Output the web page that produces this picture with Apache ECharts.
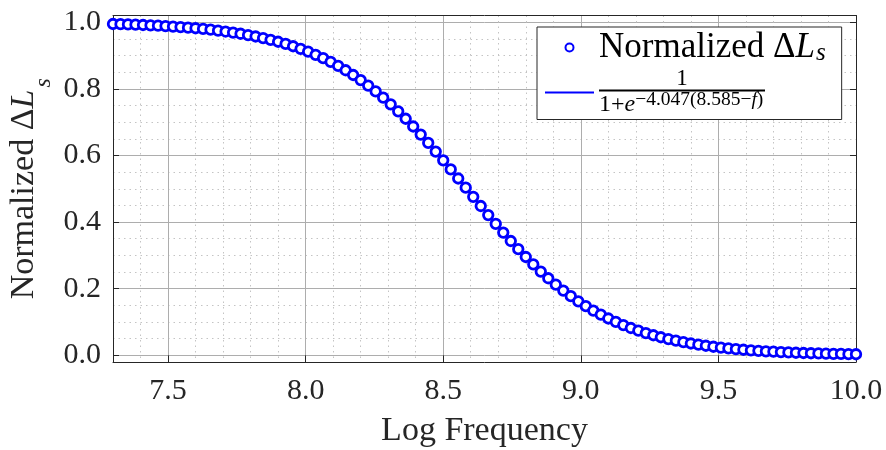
<!DOCTYPE html>
<html>
<head>
<meta charset="utf-8">
<script src="https://cdn.jsdelivr.net/npm/echarts@6/dist/echarts.min.js"></script>
<style>
  html, body { margin: 0; padding: 0; background: #ffffff; }
  #chart { width: 886px; height: 450px; }
</style>
</head>
<body>
<div id="chart"></div>
<script>
// Sample positions on the log-frequency axis
const logFreq = [
  7.3000, 7.3273, 7.3545, 7.3818, 7.4091, 7.4364, 7.4636, 7.4909, 7.5182, 7.5455,
  7.5727, 7.6000, 7.6273, 7.6545, 7.6818, 7.7091, 7.7364, 7.7636, 7.7909, 7.8182,
  7.8455, 7.8727, 7.9000, 7.9273, 7.9545, 7.9818, 8.0091, 8.0364, 8.0636, 8.0909,
  8.1182, 8.1455, 8.1727, 8.2000, 8.2273, 8.2545, 8.2818, 8.3091, 8.3364, 8.3636,
  8.3909, 8.4182, 8.4455, 8.4727, 8.5000, 8.5273, 8.5545, 8.5818, 8.6091, 8.6364,
  8.6636, 8.6909, 8.7182, 8.7455, 8.7727, 8.8000, 8.8273, 8.8545, 8.8818, 8.9091,
  8.9364, 8.9636, 8.9909, 9.0182, 9.0455, 9.0727, 9.1000, 9.1273, 9.1545, 9.1818,
  9.2091, 9.2364, 9.2636, 9.2909, 9.3182, 9.3455, 9.3727, 9.4000, 9.4273, 9.4545,
  9.4818, 9.5091, 9.5364, 9.5636, 9.5909, 9.6182, 9.6455, 9.6727, 9.7000, 9.7273,
  9.7545, 9.7818, 9.8091, 9.8364, 9.8636, 9.8909, 9.9182, 9.9455, 9.9727, 10.0000
];

// Normalized ΔL_s measured at each sample
const normDeltaLs = [
  0.9945, 0.9939, 0.9932, 0.9924, 0.9915, 0.9905, 0.9894, 0.9882, 0.9868, 0.9853,
  0.9836, 0.9818, 0.9797, 0.9774, 0.9748, 0.9719, 0.9688, 0.9652, 0.9613, 0.9570,
  0.9523, 0.9470, 0.9412, 0.9347, 0.9277, 0.9199, 0.9114, 0.9021, 0.8919, 0.8808,
  0.8687, 0.8556, 0.8414, 0.8261, 0.8097, 0.7921, 0.7733, 0.7534, 0.7323, 0.7101,
  0.6869, 0.6626, 0.6375, 0.6117, 0.5852, 0.5581, 0.5308, 0.5032, 0.4757, 0.4482,
  0.4211, 0.3945, 0.3684, 0.3431, 0.3187, 0.2952, 0.2728, 0.2515, 0.2313, 0.2122,
  0.1943, 0.1776, 0.1621, 0.1477, 0.1343, 0.1220, 0.1106, 0.1002, 0.0907, 0.0820,
  0.0741, 0.0669, 0.0603, 0.0543, 0.0489, 0.0440, 0.0396, 0.0356, 0.0320, 0.0288,
  0.0258, 0.0232, 0.0208, 0.0187, 0.0168, 0.0150, 0.0135, 0.0121, 0.0109, 0.0097,
  0.0087, 0.0078, 0.0070, 0.0063, 0.0056, 0.0050, 0.0045, 0.0041, 0.0036, 0.0033
];

// Logistic fit parameters, as printed in the legend
const FIT_K = 4.047;
const FIT_F0 = 8.585;

// Axis ticks
const xMajorTicks = [7.5, 8.0, 8.5, 9.0, 9.5, 10.0];
const xMinorTicks = [7.4, 7.6, 7.7, 7.8, 7.9, 8.1, 8.2, 8.3, 8.4, 8.6, 8.7, 8.8, 8.9,
                     9.1, 9.2, 9.3, 9.4, 9.6, 9.7, 9.8, 9.9];
const yMajorTicks = [0.0, 0.2, 0.4, 0.6, 0.8, 1.0];
const yMinorTicks = [0.05, 0.1, 0.15, 0.25, 0.3, 0.35, 0.45, 0.5, 0.55,
                     0.65, 0.7, 0.75, 0.85, 0.9, 0.95];

const X_RANGE = [7.3, 10.0];
const Y_RANGE = [-0.02, 1.02];

const SERIF = "'Liberation Serif', 'Times New Roman', 'DejaVu Serif', serif";
const INK = '#262626';
const BLUE = '#0000ff';

const DATA_NAME = 'Normalized ΔLs';
const FIT_NAME = '1/(1+e^(-4.047(8.585-f)))';

const measured = logFreq.map((f, i) => [f, normDeltaLs[i]]);
const fitted = logFreq.map(f => [f, 1 / (1 + Math.exp(-FIT_K * (FIT_F0 - f)))]);

const fmt1 = v => Number(v).toFixed(1);

function majorAxis(extra) {
  return Object.assign({
    type: 'value',
    axisLine: { show: true, onZero: false, lineStyle: { color: INK, width: 1 } },
    axisTick: { show: true, inside: true, length: 6, lineStyle: { color: INK, width: 1 } },
    axisLabel: { show: true, formatter: fmt1, fontFamily: SERIF, fontSize: 30, color: INK },
    splitLine: { show: true, lineStyle: { color: '#adadad', width: 1 } },
    minorTick: { show: false },
    minorSplitLine: { show: false }
  }, extra);
}

function minorAxis(extra) {
  return Object.assign({
    type: 'value',
    axisLine: { show: true, onZero: false, lineStyle: { color: INK, width: 1 } },
    axisTick: { show: false },
    axisLabel: { show: false },
    splitLine: { show: true, lineStyle: { color: '#c4c4c4', width: 1, type: [1.5, 4] } }
  }, extra);
}

function tickOnlyAxis(extra) {
  return Object.assign({
    type: 'value',
    axisLine: { show: false },
    axisTick: { show: true, inside: true, length: 6, lineStyle: { color: INK, width: 1 } },
    axisLabel: { show: false },
    splitLine: { show: false }
  }, extra);
}

const chart = echarts.init(document.getElementById('chart'), null, { renderer: 'canvas' });

chart.setOption({
  animation: false,
  backgroundColor: '#ffffff',
  grid: { left: 113, right: 30, top: 15.5, bottom: 88, containLabel: false, outerBoundsMode: 'none' },
  xAxis: [
    majorAxis({
      position: 'bottom', min: X_RANGE[0], max: X_RANGE[1],
      axisTick: { show: true, inside: true, length: 6, customValues: xMajorTicks, lineStyle: { color: INK, width: 1 } },
      axisLabel: { show: true, customValues: xMajorTicks, formatter: fmt1, fontFamily: SERIF, fontSize: 30, color: INK, margin: 14 },
      name: 'Log Frequency', nameLocation: 'middle', nameGap: 52, nameMoveOverlap: false,
      nameTextStyle: { fontFamily: SERIF, fontSize: 34, color: INK }
    }),
    minorAxis({
      position: 'top', min: X_RANGE[0], max: X_RANGE[1],
      axisTick: { show: false, customValues: xMinorTicks }
    }),
    tickOnlyAxis({
      position: 'top', min: X_RANGE[0], max: X_RANGE[1],
      axisTick: { show: true, inside: true, length: 6, customValues: xMajorTicks, lineStyle: { color: INK, width: 1 } }
    })
  ],
  yAxis: [
    majorAxis({
      position: 'left', min: Y_RANGE[0], max: Y_RANGE[1],
      axisTick: { show: true, inside: true, length: 6, customValues: yMajorTicks, lineStyle: { color: INK, width: 1 } },
      axisLabel: { show: true, customValues: yMajorTicks, formatter: fmt1, fontFamily: SERIF, fontSize: 30, color: INK, margin: 12 },
      name: '{t|Normalized Δ}{it|L}{sub|s}', nameLocation: 'middle', nameGap: 71, nameRotate: 90,
      nameMoveOverlap: false,
      nameTextStyle: {
        fontFamily: SERIF, fontSize: 34, color: INK,
        rich: {
          t: { fontFamily: SERIF, fontSize: 34, color: INK, lineHeight: 36 },
          it: { fontFamily: SERIF, fontSize: 34, fontStyle: 'italic', color: INK, lineHeight: 36 },
          sub: { fontFamily: SERIF, fontSize: 24, fontStyle: 'italic', color: INK, lineHeight: 36, padding: [40, 0, 0, 2] }
        }
      }
    }),
    minorAxis({
      position: 'right', min: Y_RANGE[0], max: Y_RANGE[1],
      axisTick: { show: false, customValues: yMinorTicks }
    }),
    tickOnlyAxis({
      position: 'right', min: Y_RANGE[0], max: Y_RANGE[1],
      axisTick: { show: true, inside: true, length: 6, customValues: yMajorTicks, lineStyle: { color: INK, width: 1 } }
    })
  ],
  legend: {
    data: [
      { name: DATA_NAME },
      { name: FIT_NAME, itemStyle: { color: 'rgba(0,0,0,0)', borderWidth: 0, opacity: 0 } }
    ],
    orient: 'vertical',
    left: 537, top: 27,
    itemWidth: 49, itemHeight: 8, itemGap: 1,
    padding: [2, 16, 0, 7],
    borderColor: INK, borderWidth: 1, backgroundColor: '#ffffff',
    selectedMode: false,
    formatter: name => name === DATA_NAME
      ? '{t|Normalized Δ}{it|L}{sub|s}'
      : '{num|1}\n{bar| }\n{den|1+}{deni|e}{sup|−4.047(8.585−}{supi|f}{sup|)}',
    textStyle: {
      fontFamily: SERIF, color: '#000',
      rich: {
        t: { fontFamily: SERIF, fontSize: 35, color: '#000', lineHeight: 36 },
        it: { fontFamily: SERIF, fontSize: 35, fontStyle: 'italic', color: '#000', lineHeight: 36 },
        sub: { fontFamily: SERIF, fontSize: 25, fontStyle: 'italic', color: '#000', lineHeight: 36, padding: [12, 0, 0, 1] },
        num: { fontFamily: SERIF, fontSize: 23, color: '#000', width: 166, align: 'center', lineHeight: 20 },
        bar: { fontSize: 2, width: 166, height: 2, lineHeight: 4, backgroundColor: '#000' },
        den: { fontFamily: SERIF, fontSize: 24, color: '#000', lineHeight: 24 },
        deni: { fontFamily: SERIF, fontSize: 24, fontStyle: 'italic', color: '#000', lineHeight: 24 },
        sup: { fontFamily: SERIF, fontSize: 19.5, color: '#000', lineHeight: 24, padding: [0, 0, 10, 0] },
        supi: { fontFamily: SERIF, fontSize: 19.5, fontStyle: 'italic', color: '#000', lineHeight: 24, padding: [0, 0, 10, 0] }
      }
    }
  },
  series: [
    {
      name: FIT_NAME,
      type: 'line',
      xAxisIndex: 0, yAxisIndex: 0,
      data: fitted,
      symbol: 'none',
      smooth: false,
      lineStyle: { color: BLUE, width: 2.5 },
      itemStyle: { color: BLUE },
      z: 2
    },
    {
      name: DATA_NAME,
      type: 'scatter',
      xAxisIndex: 0, yAxisIndex: 0,
      data: measured,
      symbol: 'circle',
      symbolSize: 9.5,
      itemStyle: { color: '#ffffff', borderColor: BLUE, borderWidth: 2.8, opacity: 1 },
      z: 3
    }
  ]
});
</script>
</body>
</html>
